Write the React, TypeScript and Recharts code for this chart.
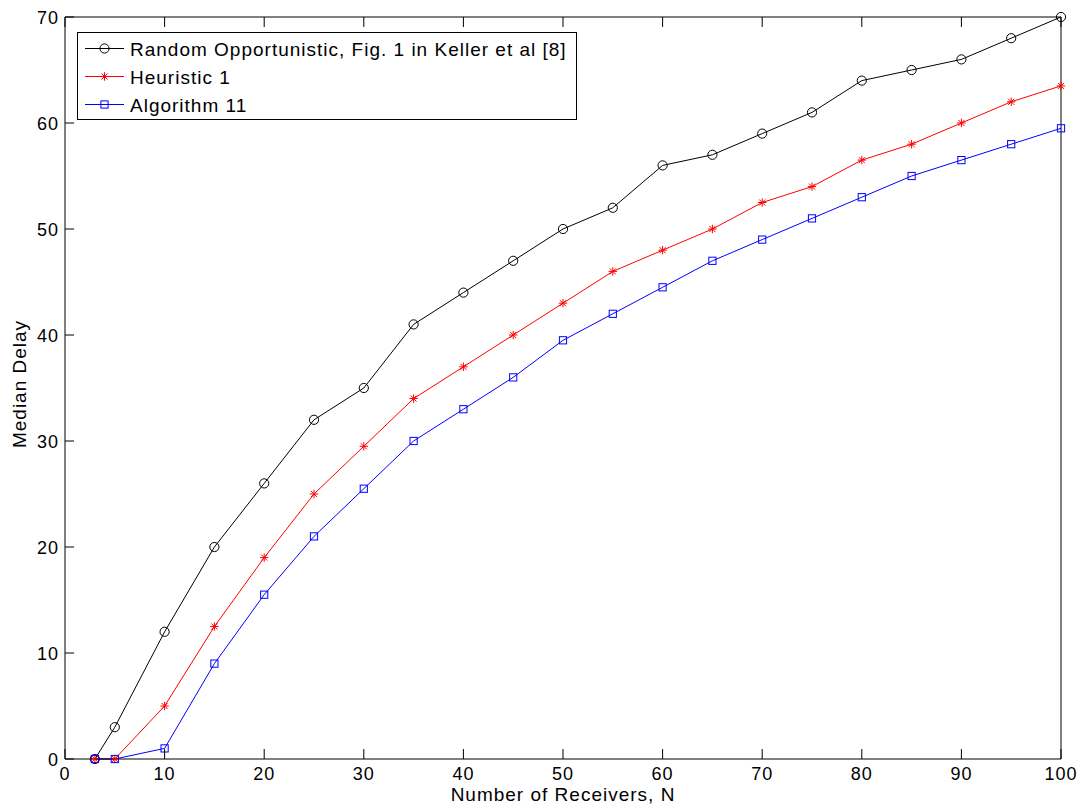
import React from 'react';
import { LineChart, Line, XAxis, YAxis, Legend } from 'recharts';

const receivers = [3, 5, 10, 15, 20, 25, 30, 35, 40, 45, 50, 55, 60, 65, 70, 75, 80, 85, 90, 95, 100];
const randomOpportunistic = [0, 3, 12, 20, 26, 32, 35, 41, 44, 47, 50, 52, 56, 57, 59, 61, 64, 65, 66, 68, 70];
const heuristic1 = [0, 0, 5, 12.5, 19, 25, 29.5, 34, 37, 40, 43, 46, 48, 50, 52.5, 54, 56.5, 58, 60, 62, 63.5];
const algorithm11 = [0, 0, 1, 9, 15.5, 21, 25.5, 30, 33, 36, 39.5, 42, 44.5, 47, 49, 51, 53, 55, 56.5, 58, 59.5];
const xTicks = [0, 10, 20, 30, 40, 50, 60, 70, 80, 90, 100];
const yTicks = [0, 10, 20, 30, 40, 50, 60, 70];

const seriesNames = [
  'Random Opportunistic, Fig. 1 in Keller et al [8]',
  'Heuristic 1',
  'Algorithm 11',
];

const data = receivers.map((n, i) => ({
  n,
  r: randomOpportunistic[i],
  h: heuristic1[i],
  a: algorithm11[i],
}));

const FONT = '"Liberation Sans", Arial, Helvetica, sans-serif';
const FS = 19;
const TFS = 18;
const LS = 1.0;

const CircleMark = ({ cx, cy, c = '#000' }: any) => (
  <circle cx={cx} cy={cy} r={4.6} fill="none" stroke={c} strokeWidth={1} />
);
const StarMark = ({ cx, cy, c = '#ff0000' }: any) => {
  const s = 4.2;
  const d = s * 0.72;
  return (
    <g stroke={c} strokeWidth={1}>
      <line x1={cx - s} y1={cy} x2={cx + s} y2={cy} />
      <line x1={cx} y1={cy - s} x2={cx} y2={cy + s} />
      <line x1={cx - d} y1={cy - d} x2={cx + d} y2={cy + d} />
      <line x1={cx - d} y1={cy + d} x2={cx + d} y2={cy - d} />
    </g>
  );
};
const SquareMark = ({ cx, cy, c = '#0000ff' }: any) => (
  <rect x={cx - 3.6} y={cy - 3.6} width={7.2} height={7.2} fill="none" stroke={c} strokeWidth={1} />
);

const dotFn = (Mark: any, color: string) => (props: any) => {
  const { cx, cy, index } = props;
  if (cx == null || cy == null) return <g key={`d${index}`} />;
  return <Mark key={`d${index}`} cx={cx} cy={cy} c={color} />;
};

const BottomTick = ({ x, y, payload }: any) => (
  <g>
    <line x1={x} y1={y} x2={x} y2={y - 10} stroke="#000" strokeWidth={1} />
    <text x={x} y={y + 21} textAnchor="middle" fontFamily={FONT} fontSize={TFS} letterSpacing={LS} fill="#000">
      {payload.value}
    </text>
  </g>
);
const TopTick = ({ x, y }: any) => (
  <line x1={x} y1={y} x2={x} y2={y + 10} stroke="#000" strokeWidth={1} />
);
const LeftTick = ({ x, y, payload }: any) => (
  <g>
    <line x1={x} y1={y} x2={x + 9} y2={y} stroke="#000" strokeWidth={1} />
    <text x={x - 6} y={y + 6.5} textAnchor="end" fontFamily={FONT} fontSize={TFS} letterSpacing={LS} fill="#000">
      {payload.value}
    </text>
  </g>
);
const RightTick = ({ x, y }: any) => (
  <line x1={x} y1={y} x2={x - 10} y2={y} stroke="#000" strokeWidth={1} />
);

const XLabel = ({ viewBox }: any) => {
  const { x, width } = viewBox;
  return (
    <text x={x + width / 2} y={801} textAnchor="middle" fontFamily={FONT} fontSize={FS} letterSpacing={LS} fill="#000">
      Number of Receivers, N
    </text>
  );
};
const YLabel = ({ viewBox }: any) => {
  const { y, height } = viewBox;
  const cx = 26;
  const cy = y + height / 2 - 4;
  return (
    <text x={cx} y={cy} transform={`rotate(-90 ${cx} ${cy})`} textAnchor="middle" fontFamily={FONT} fontSize={FS} letterSpacing={LS} fill="#000">
      Median Delay
    </text>
  );
};

const marks = [CircleMark, StarMark, SquareMark];
const colors = ['#000000', '#ff0000', '#0000ff'];

const renderLegend = () => (
  <svg width={500} height={88} style={{ display: 'block' }}>
    <rect x={0.5} y={0.5} width={499} height={87} fill="#fff" stroke="#000" strokeWidth={1} />
    {seriesNames.map((name, i) => {
      const Mark = marks[i];
      const cy = 16.5 + i * 28;
      return (
        <g key={name}>
          <line x1={8} y1={cy} x2={47} y2={cy} stroke={colors[i]} strokeWidth={1} />
          <Mark cx={27.5} cy={cy} c={colors[i]} />
          <text x={53} y={cy + 7} fontFamily={FONT} fontSize={FS} letterSpacing={LS} fill="#000">
            {name}
          </text>
        </g>
      );
    })}
  </svg>
);

export default function App() {
  return (
    <div style={{ position: 'absolute', left: 0, top: 0, width: 1082, height: 809, background: '#fff' }}>
      <LineChart width={1082} height={809} data={data} margin={{ top: 0, right: 0, bottom: 0, left: 0 }}>
        <XAxis
          xAxisId="b"
          dataKey="n"
          type="number"
          domain={[0, 100]}
          ticks={xTicks}
          orientation="bottom"
          height={50}
          tickSize={0}
          tickMargin={0}
          tickLine={false}
          axisLine={{ stroke: '#000', strokeWidth: 1 }}
          tick={<BottomTick />}
          interval={0}
          label={<XLabel />}
        />
        <XAxis
          xAxisId="t"
          dataKey="n"
          type="number"
          domain={[0, 100]}
          ticks={xTicks}
          orientation="top"
          height={17}
          tickSize={0}
          tickMargin={0}
          tickLine={false}
          axisLine={{ stroke: '#000', strokeWidth: 1 }}
          tick={<TopTick />}
          interval={0}
        />
        <YAxis
          yAxisId="l"
          type="number"
          domain={[0, 70]}
          ticks={yTicks}
          orientation="left"
          width={65}
          tickSize={0}
          tickMargin={0}
          tickLine={false}
          axisLine={{ stroke: '#000', strokeWidth: 1 }}
          tick={<LeftTick />}
          interval={0}
          label={<YLabel />}
        />
        <YAxis
          yAxisId="r"
          type="number"
          domain={[0, 70]}
          ticks={yTicks}
          orientation="right"
          width={21}
          tickSize={0}
          tickMargin={0}
          tickLine={false}
          axisLine={{ stroke: '#000', strokeWidth: 1 }}
          tick={<RightTick />}
          interval={0}
        />
        <Line xAxisId="b" yAxisId="l" dataKey="r" name={seriesNames[0]} stroke="#000000" strokeWidth={1} dot={dotFn(CircleMark, '#000000')} activeDot={false} isAnimationActive={false} />
        <Line xAxisId="b" yAxisId="l" dataKey="h" name={seriesNames[1]} stroke="#ff0000" strokeWidth={1} dot={dotFn(StarMark, '#ff0000')} activeDot={false} isAnimationActive={false} />
        <Line xAxisId="b" yAxisId="l" dataKey="a" name={seriesNames[2]} stroke="#0000ff" strokeWidth={1} dot={dotFn(SquareMark, '#0000ff')} activeDot={false} isAnimationActive={false} />
        <Legend
          layout="horizontal"
          verticalAlign="middle"
          align="center"
          content={renderLegend}
          wrapperStyle={{ left: 77, top: 32, width: 500, height: 88, margin: 0, padding: 0 }}
        />
      </LineChart>
    </div>
  );
}
